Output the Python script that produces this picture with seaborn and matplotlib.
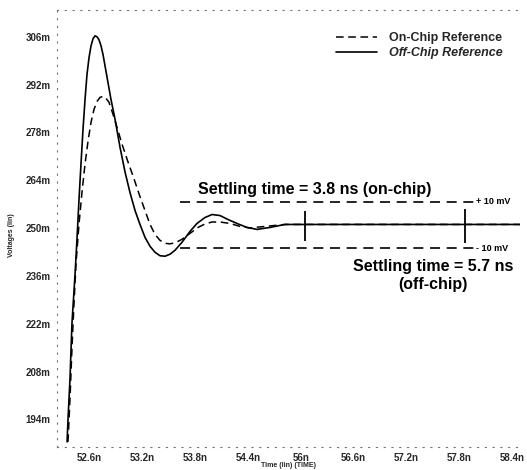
import numpy as np
import pandas as pd
import matplotlib
matplotlib.use("Agg")
import matplotlib.pyplot as plt
from matplotlib.lines import Line2D
import seaborn as sns

# on-chip / off-chip reference step responses (time in ns, voltage in mV)
on_chip_t = [52.362, 52.385, 52.407, 52.430, 52.453, 52.487, 52.521, 52.555, 52.589, 52.623,
             52.657, 52.691, 52.725, 52.759, 52.793, 52.827, 52.872, 52.917, 52.974, 53.042,
             53.110, 53.178, 53.235, 53.292, 53.348, 53.405, 53.462, 53.518, 53.575, 53.654,
             53.745, 53.836, 53.915, 53.995, 54.085, 54.199, 54.312, 54.425, 54.595, 54.822,
             57.487]
on_chip_v = [187.40, 200.48, 215.01, 228.09, 239.72, 251.35, 260.65, 268.79, 275.48, 281.00,
             284.78, 287.10, 288.27, 288.56, 287.98, 286.81, 283.33, 279.55, 274.60, 269.37,
             264.43, 259.20, 255.13, 251.06, 248.15, 246.41, 245.54, 245.39, 245.68, 246.70,
             248.44, 250.19, 251.20, 251.78, 251.78, 251.35, 250.48, 250.04, 250.48, 251.06,
             251.06]

off_chip_t = [52.351, 52.362, 52.385, 52.407, 52.441, 52.464, 52.487, 52.509, 52.532, 52.555,
              52.577, 52.600, 52.623, 52.645, 52.668, 52.691, 52.713, 52.736, 52.759, 52.781,
              52.815, 52.849, 52.895, 52.951, 53.008, 53.065, 53.122, 53.178, 53.235, 53.292,
              53.348, 53.405, 53.462, 53.518, 53.575, 53.654, 53.745, 53.824, 53.915, 53.995,
              54.085, 54.176, 54.278, 54.391, 54.505, 54.652, 54.822, 57.487]
off_chip_v = [187.40, 194.08, 206.29, 222.28, 236.23, 246.99, 258.62, 268.79, 278.97, 287.69,
              294.95, 299.90, 303.38, 305.42, 306.29, 306.00, 305.13, 303.38, 300.77, 297.57,
              292.63, 287.69, 281.87, 273.73, 266.47, 260.36, 255.13, 251.06, 247.28, 244.66,
              242.92, 241.90, 241.76, 242.34, 243.50, 245.83, 249.02, 251.35, 253.09, 253.97,
              253.67, 252.51, 251.35, 250.19, 249.61, 250.19, 251.06, 251.06]

# +/- 10 mV settling band and settling markers
band_t = [53.632, 56.976]
band_hi = [257.7, 257.7]
band_lo = [244.1, 244.1]
settle_t = [55.049, 56.863]
settle_top = [255.1, 255.7]
settle_bot = [246.1, 245.5]

ytick_vals = [194, 208, 222, 236, 250, 264, 278, 292, 306]
ytick_labels = ["194m", "208m", "222m", "236m", "250m", "264m", "278m", "292m", "306m"]
xtick_labels = ["52.6n", "53.2n", "53.8n", "54.4n", "56n", "56.6n", "57.2n", "57.8n", "58.4n"]

sns.set_style("white")
plt.rcParams["font.family"] = ["Liberation Sans", "DejaVu Sans"]

fig = plt.figure(figsize=(5.27, 4.70), dpi=100)
ax = fig.add_axes([57 / 527, 1 - 447 / 470, (520 - 57) / 527, (447 - 10) / 470])

df_on = pd.DataFrame({"t": on_chip_t, "v": on_chip_v})
df_off = pd.DataFrame({"t": off_chip_t, "v": off_chip_v})
sns.lineplot(data=df_off, x="t", y="v", ax=ax, sort=False, estimator=None,
             color="black", lw=1.2)
sns.lineplot(data=df_on, x="t", y="v", ax=ax, sort=False, estimator=None,
             color="black", lw=1.1)
ax.lines[-1].set_dashes([5, 3])
for ln in ax.lines:
    ln.set_solid_joinstyle("round")
    ln.set_dash_joinstyle("round")

for lvl in (band_hi, band_lo):
    ax.plot(band_t, lvl, color="black", lw=1.2, dashes=[6, 4])
ax.vlines(settle_t, settle_bot, settle_top, color="black", lw=1.3)

ax.set_xlim(52.237, 57.487)
ax.set_ylim(185.9, 313.85)
xt = [52.6 + 0.6 * i for i in range(len(xtick_labels))]
ax.set_xticks(xt)
ax.set_xticklabels(xtick_labels)
ax.set_yticks(ytick_vals)
ax.set_yticklabels(ytick_labels)
ax.tick_params(axis="both", labelsize=7, length=1.5, width=0.6, pad=3, color="0.4")
for lab in ax.get_xticklabels() + ax.get_yticklabels():
    lab.set_fontweight("bold")
ax.set_xlabel("Time (lin) (TIME)", fontsize=5, fontweight="bold")
ax.set_ylabel("Voltages (lin)", fontsize=5, fontweight="bold")
ax.xaxis.set_label_coords(0.499, -0.034)
ax.yaxis.set_label_coords(-0.09, 0.485)

for side in ("left", "bottom", "top"):
    ax.spines[side].set_linestyle((0, (1, 6)))
    ax.spines[side].set_color("0.45")
    ax.spines[side].set_linewidth(0.8)
ax.spines["right"].set_visible(False)

bold = dict(fontweight="bold", color="black")
ax.text(53.836, 260.1, "Settling time = 3.8 ns (on-chip)", fontsize=11.5, ha="left", va="baseline", **bold)
ax.text(57.407, 237.4, "Settling time = 5.7 ns", fontsize=11.5, ha="right", va="baseline", **bold)
ax.text(56.5, 233.4, "(off-chip)", fontsize=11.5, ha="center", va="center", **bold)
ax.text(56.99, 257.7, "+ 10 mV", fontsize=6.5, ha="left", va="center", **bold)
ax.text(56.99, 244.1, "- 10 mV", fontsize=6.5, ha="left", va="center", **bold)

handles = [Line2D([], [], color="black", lw=1.1, dashes=[5, 3]),
           Line2D([], [], color="black", lw=1.2)]
leg = ax.legend(handles, ["On-Chip Reference", "Off-Chip Reference"],
                loc="upper right", bbox_to_anchor=(503 / 527, 1 - 32 / 470),
                bbox_transform=fig.transFigure, frameon=False, fontsize=9,
                handlelength=3.3, handletextpad=1.0, labelspacing=0.25,
                borderpad=0, borderaxespad=0)
for txt in leg.get_texts():
    txt.set_fontweight("bold")
leg.get_texts()[1].set_fontstyle("italic")

fig.savefig("out.png", dpi=100)
